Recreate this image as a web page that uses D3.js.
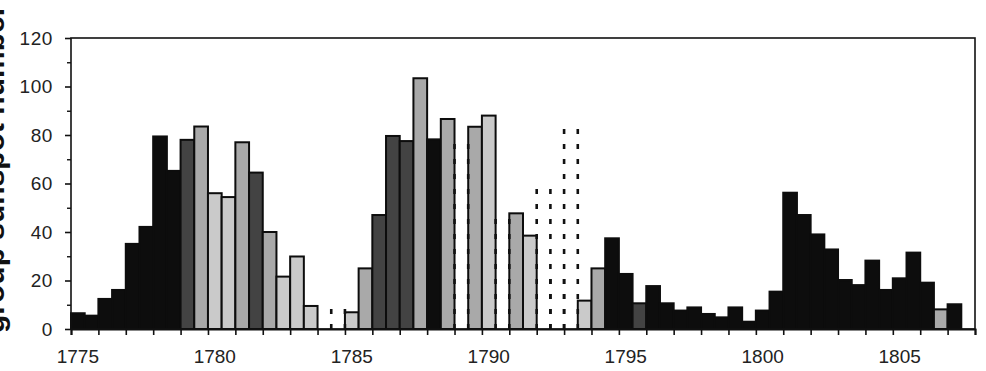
<!DOCTYPE html>
<html>
<head>
<meta charset="utf-8">
<script src="https://cdn.jsdelivr.net/npm/d3@7"></script>
<style>
  body { margin: 0; background: #fff; }
  svg { display: block; }
  .axis text { font-family: "Liberation Sans", Arial, sans-serif; fill: #222; }
</style>
</head>
<body>
<svg id="chart" width="986" height="371"></svg>
<script>
// half-year bins, start of each period
var periods = [1775.0, 1775.5, 1776.0, 1776.5, 1777.0, 1777.5, 1778.0, 1778.5, 1779.0, 1779.5,
               1780.0, 1780.5, 1781.0, 1781.5, 1782.0, 1782.5, 1783.0, 1783.5, 1784.0, 1784.5,
               1785.0, 1785.5, 1786.0, 1786.5, 1787.0, 1787.5, 1788.0, 1788.5, 1789.0, 1789.5,
               1790.0, 1790.5, 1791.0, 1791.5, 1792.0, 1792.5, 1793.0, 1793.5, 1794.0, 1794.5,
               1795.0, 1795.5, 1796.0, 1796.5, 1797.0, 1797.5, 1798.0, 1798.5, 1799.0, 1799.5,
               1800.0, 1800.5, 1801.0, 1801.5, 1802.0, 1802.5, 1803.0, 1803.5, 1804.0, 1804.5,
               1805.0, 1805.5, 1806.0, 1806.5, 1807.0];

// group sunspot number per bin
var sunspots = [6.5, 5.5, 12.4, 16.1, 35.1, 42.1, 79.4, 65.2, 78.0, 83.5,
                56.0, 54.4, 77.0, 64.5, 40.0, 21.6, 29.9, 9.5, 0, 9.0,
                6.9, 25.0, 47.0, 79.6, 77.5, 103.4, 78.2, 86.6, 77.3, 83.4,
                88.0, 48.4, 47.7, 38.5, 60.8, 24.0, 85.5, 11.7, 25.0, 37.4,
                22.7, 10.6, 17.7, 10.6, 7.6, 8.9, 6.2, 4.8, 8.9, 3.0,
                7.6, 15.4, 56.2, 47.0, 39.0, 32.8, 20.2, 18.1, 28.2, 16.1,
                20.9, 31.5, 19.1, 8.1, 10.2];

// shading class of each bin (0 black ... 3 light, 4 dotted outline)
var shade = [0, 0, 0, 0, 0, 0, 0, 0, 1, 2,
             3, 3, 2, 1, 2, 3, 3, 3, 0, 4,
             3, 2, 1, 1, 1, 2, 0, 2, 4, 2,
             3, 4, 2, 3, 4, 4, 4, 3, 2, 0,
             0, 1, 0, 0, 0, 0, 0, 0, 0, 0,
             0, 0, 0, 0, 0, 0, 0, 0, 0, 0,
             0, 0, 0, 2, 0];

var yTicks = [0, 20, 40, 60, 80, 100, 120];
var xLabels = [1775, 1780, 1785, 1790, 1795, 1800, 1805];

var data = periods.map(function(p, i) {
  return {start: p, value: sunspots[i], shade: shade[i]};
});

var svg = d3.select("#chart"),
    margin = {top: 38, right: 11, bottom: 42, left: 71},
    width = +svg.attr("width") - margin.left - margin.right,
    height = +svg.attr("height") - margin.top - margin.bottom;

var x = d3.scaleLinear().domain([1775, 1808]).range([0, width]),
    y = d3.scaleLinear().domain([0, 120]).range([height, 0]);

var fill = d3.scaleOrdinal().domain([0, 1, 2, 3, 4])
    .range(["#0d0d0d", "#434343", "#a9a9a9", "#cacaca", "#ffffff"]);

var g = svg.append("g")
    .attr("transform", "translate(" + margin.left + "," + margin.top + ")");

g.selectAll(".bar")
  .data(data.filter(function(d) { return d.shade !== 4 && d.value > 0; }))
  .enter().append("rect")
    .attr("class", "bar")
    .attr("x", function(d) { return x(d.start); })
    .attr("y", function(d) { return y(d.value); })
    .attr("width", function(d) { return x(d.start + 0.5) - x(d.start); })
    .attr("height", function(d) { return height - y(d.value); })
    .style("fill", function(d) { return fill(d.shade); })
    .style("stroke", "#0d0d0d")
    .style("stroke-width", 2);

// dotted bins: only their sides show, drawn bottom-up so shared sides line up
g.selectAll(".dotted")
  .data(data.filter(function(d) { return d.shade === 4; }))
  .enter().append("path")
    .attr("class", "dotted")
    .attr("d", function(d) {
      var x0 = x(d.start), x1 = x(d.start + 0.5), top = y(d.value);
      return "M" + x0 + "," + height + "V" + top + "M" + x1 + "," + height + "V" + top;
    })
    .style("fill", "none")
    .style("stroke", "#111")
    .style("stroke-width", 2.6)
    .style("stroke-dasharray", "5,10");

// frame
g.append("rect")
    .attr("width", width)
    .attr("height", height)
    .style("fill", "none")
    .style("stroke", "#111")
    .style("stroke-width", 1.6);

// y axis: labelled majors plus unlabelled minors
g.append("g")
    .attr("class", "axis axis--y")
    .call(d3.axisLeft(y).tickValues(yTicks).tickSize(6).tickPadding(12))
    .call(function(a) {
      a.select(".domain").remove();
      a.selectAll("line").style("stroke", "#111").style("stroke-width", 1.6);
      a.selectAll("text").style("font-size", "19px").style("letter-spacing", "0.6px");
    });

g.append("g")
    .attr("class", "axis axis--yminor")
    .call(d3.axisLeft(y).tickValues(d3.range(10, 120, 20)).tickSize(4).tickFormat(""))
    .call(function(a) {
      a.select(".domain").remove();
      a.selectAll("line").style("stroke", "#111").style("stroke-width", 1.4);
    });

// x axis: ticks at year boundaries, labels centred on the first half-year of the year
g.append("g")
    .attr("class", "axis axis--x")
    .attr("transform", "translate(0," + height + ")")
    .call(d3.axisBottom(x).tickValues(d3.range(1775, 1809)).tickSize(6).tickFormat(""))
    .call(function(a) {
      a.select(".domain").style("stroke", "#111").style("stroke-width", 2);
      a.selectAll("line").style("stroke", "#111").style("stroke-width", 1.6);
    });

g.append("g")
    .attr("class", "axis axis--xlabels")
  .selectAll("text")
  .data(xLabels)
  .enter().append("text")
    .attr("x", function(d) { return x(d + 0.25); })
    .attr("y", height + 34)
    .attr("text-anchor", "middle")
    .style("font-size", "19px")
    .text(function(d) { return d; });

// y title, cropped by the page edge as in the scan
svg.append("text")
    .attr("transform", "translate(4,333) rotate(-90)")
    .attr("text-anchor", "start")
    .style("font-family", "'Liberation Sans', Arial, sans-serif")
    .style("font-weight", "bold")
    .style("font-size", "30px")
    .style("fill", "#111")
    .text("group sunspot number");
</script>
</body>
</html>
